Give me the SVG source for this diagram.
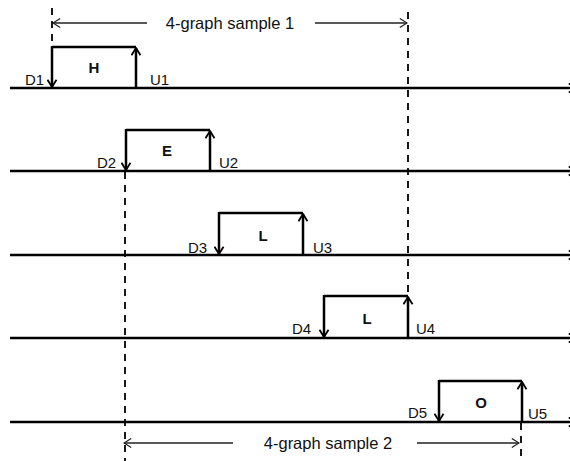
<svg xmlns="http://www.w3.org/2000/svg" width="570" height="461" viewBox="0 0 570 461">
<style>
.base{stroke:#000;stroke-width:2.5;fill:none}
.box{stroke:#000;stroke-width:2.5;fill:none}
.dash{stroke:#000;stroke-width:1.8;fill:none;stroke-dasharray:7 6}
.dim{stroke:#222;stroke-width:1.3;fill:none}
.lbl{font-family:"Liberation Sans",Arial,sans-serif;font-size:15px;fill:#111}
.chr{font-family:"Liberation Sans",Arial,sans-serif;font-size:15px;font-weight:bold;fill:#111;text-anchor:middle}
.dtx{font-family:"Liberation Sans",Arial,sans-serif;font-size:16.5px;fill:#111;text-anchor:middle}
</style>
<defs>
<marker id="ah" viewBox="0 0 10 12" refX="9" refY="6" markerWidth="9" markerHeight="11" markerUnits="userSpaceOnUse" orient="auto"><path d="M1,1 L9,6 L1,11" fill="none" stroke="#000" stroke-width="2"/></marker>
<marker id="ahs" viewBox="0 0 10 12" refX="9" refY="6" markerWidth="9" markerHeight="11" markerUnits="userSpaceOnUse" orient="auto"><path d="M1,1 L9,6 L1,11" fill="none" stroke="#222" stroke-width="1.4"/></marker>
</defs>
<g id="connectors">
<line class="base" x1="10" y1="88" x2="576" y2="88" marker-end="url(#ah)"/>
<line class="base" x1="10" y1="171" x2="576" y2="171" marker-end="url(#ah)"/>
<line class="base" x1="10" y1="255" x2="576" y2="255" marker-end="url(#ah)"/>
<line class="base" x1="10" y1="338" x2="576" y2="338" marker-end="url(#ah)"/>
<line class="base" x1="10" y1="422" x2="576" y2="422" marker-end="url(#ah)"/>
<line class="dash" x1="52" y1="8" x2="52" y2="47"/>
<line class="dash" x1="408" y1="12" x2="408" y2="296"/>
<line class="dash" x1="125" y1="172" x2="125" y2="461"/>
<line class="dash" x1="521" y1="423" x2="521" y2="461"/>
<line class="dim" x1="147" y1="23" x2="53" y2="23" marker-end="url(#ahs)"/>
<line class="dim" x1="315" y1="23" x2="407" y2="23" marker-end="url(#ahs)"/>
<line class="dim" x1="233" y1="443" x2="124" y2="443" marker-end="url(#ahs)"/>
<line class="dim" x1="417" y1="443" x2="519" y2="443" marker-end="url(#ahs)"/>
<text class="dtx" x="230" y="29">4-graph sample 1</text>
<text class="dtx" x="328" y="449">4-graph sample 2</text>
</g>
<g id="node-H">
<line class="box" x1="52" y1="47" x2="136" y2="47"/>
<line class="box" x1="52" y1="46" x2="52" y2="87" marker-end="url(#ah)"/>
<line class="box" x1="136" y1="88" x2="136" y2="48" marker-end="url(#ah)"/>
<text class="chr" x="94" y="73">H</text>
<text class="lbl" x="25" y="85">D1</text>
<text class="lbl" x="150" y="85">U1</text>
</g>
<g id="node-E">
<line class="box" x1="126" y1="130" x2="210" y2="130"/>
<line class="box" x1="126" y1="129" x2="126" y2="170" marker-end="url(#ah)"/>
<line class="box" x1="210" y1="171" x2="210" y2="131" marker-end="url(#ah)"/>
<text class="chr" x="167" y="156">E</text>
<text class="lbl" x="97" y="168">D2</text>
<text class="lbl" x="219" y="168">U2</text>
</g>
<g id="node-L1">
<line class="box" x1="219" y1="213" x2="303" y2="213"/>
<line class="box" x1="219" y1="212" x2="219" y2="254" marker-end="url(#ah)"/>
<line class="box" x1="303" y1="255" x2="303" y2="214" marker-end="url(#ah)"/>
<text class="chr" x="263" y="241">L</text>
<text class="lbl" x="188" y="253">D3</text>
<text class="lbl" x="313" y="253">U3</text>
</g>
<g id="node-L2">
<line class="box" x1="324" y1="296" x2="408" y2="296"/>
<line class="box" x1="324" y1="295" x2="324" y2="337" marker-end="url(#ah)"/>
<line class="box" x1="408" y1="338" x2="408" y2="297" marker-end="url(#ah)"/>
<text class="chr" x="367" y="324">L</text>
<text class="lbl" x="292" y="334">D4</text>
<text class="lbl" x="416" y="334">U4</text>
</g>
<g id="node-O">
<line class="box" x1="439" y1="381" x2="522" y2="381"/>
<line class="box" x1="439" y1="380" x2="439" y2="421" marker-end="url(#ah)"/>
<line class="box" x1="522" y1="422" x2="522" y2="382" marker-end="url(#ah)"/>
<text class="chr" x="481" y="408">O</text>
<text class="lbl" x="408" y="418">D5</text>
<text class="lbl" x="528" y="419">U5</text>
</g>
</svg>
